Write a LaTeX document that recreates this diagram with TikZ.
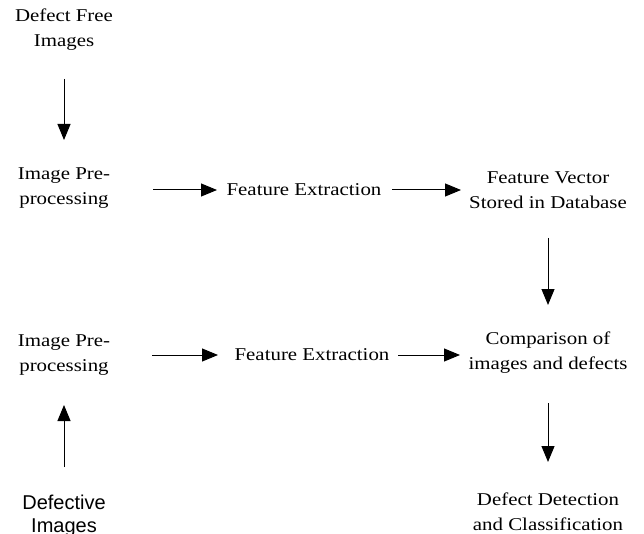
\documentclass[tikz,border=0pt]{standalone}
\usepackage{fontspec}
\setmainfont{Liberation Serif}
\newfontfamily\labelserif[FakeStretch=1.16]{Liberation Serif}
\newfontfamily\labelsans{Liberation Sans}
\usetikzlibrary{arrows.meta}
\begin{document}
\begin{tikzpicture}[x=1pt,y=-1pt,
  lbl/.style={align=center,inner sep=0pt,
    font=\labelserif\fontsize{18}{25}\selectfont},
  lblsans/.style={align=center,inner sep=0pt,
    font=\labelsans\fontsize{20}{23}\selectfont},
  arr/.style={line width=1pt,-{Triangle[length=16pt,width=13pt]}}]
\useasboundingbox (0,0) rectangle (644,534);
\clip (0,0) rectangle (644,534);

% upper branch: reference images
\node[lbl] (df)  at (64,30)   {Defect Free\\Images};
\node[lbl] (ip1) at (64,188)  {Image Pre-\\processing};
\node[lbl] (fe1) at (304,190) {Feature Extraction};
\node[lbl] (fv)  at (548,190) {Feature Vector\\Stored in Database};

% lower branch: images under test
\node[lbl] (ip2) at (64,355)  {Image Pre-\\processing};
\node[lbl] (fe2) at (312,355) {Feature Extraction};
\node[lbl] (cmp) at (548,353) {Comparison of\\images and defects};
\node[lbl] (dd)  at (548,512) {Defect Detection\\and Classification};
\node[lblsans] (di) at (64,516) {Defective\\Images};

% connectors, measured from the node centres
\draw[arr,shorten <=49pt,shorten >=48pt] (df.center) -- (ip1.center);
\draw[arr,shorten <=89pt,shorten >=87pt] (fe1.center -| ip1.center) -- (fe1.center);
\draw[arr,shorten <=88pt,shorten >=87pt] (fe1.center) -- (fe1.center -| fv.center);
\draw[arr,shorten <=48pt,shorten >=48pt] (fv.center) -- (cmp.center);
\draw[arr,shorten <=88pt,shorten >=94pt] (ip2.center) -- (fe2.center);
\draw[arr,shorten <=86pt,shorten >=88pt] (fe2.center) -- (fe2.center -| cmp.center);
\draw[arr,shorten <=50pt,shorten >=50pt] (cmp.center) -- (dd.center);
\draw[arr,shorten <=49pt,shorten >=50pt] (di.center) -- (ip2.center);
\end{tikzpicture}
\end{document}
